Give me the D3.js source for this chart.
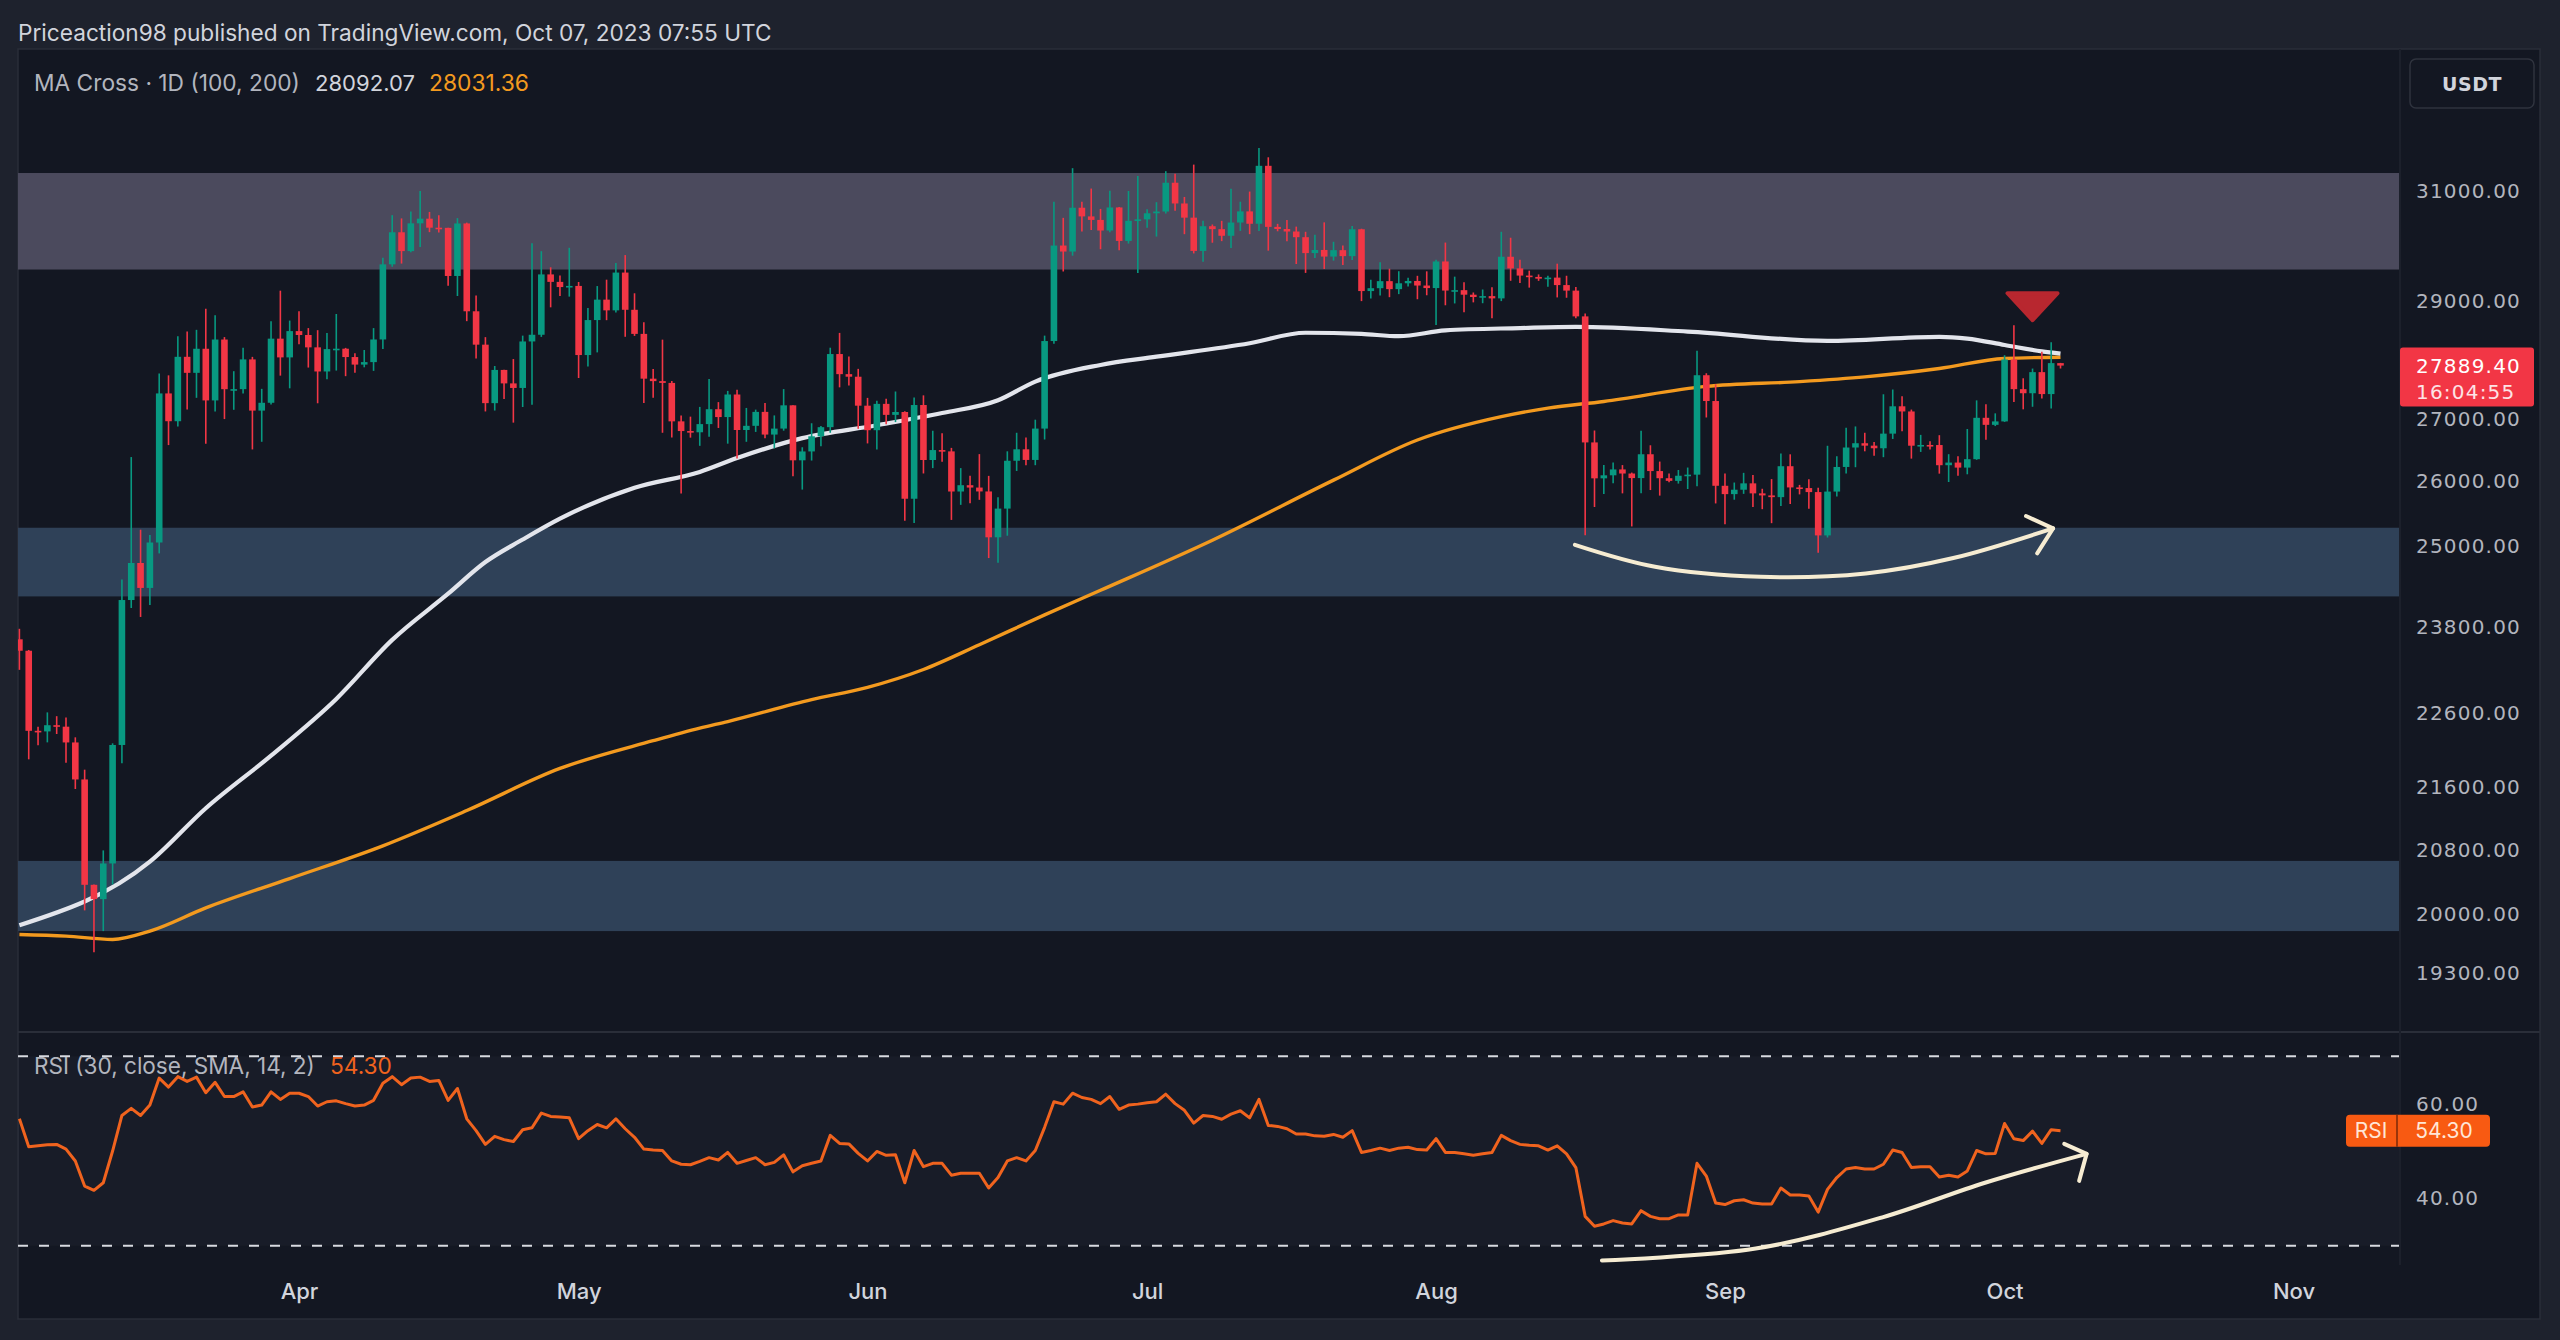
<!DOCTYPE html>
<html><head><meta charset="utf-8">
<script src="https://cdn.jsdelivr.net/npm/d3@7"></script>
<style>
html,body{margin:0;padding:0;background:#1e222d;}
svg{display:block;}
</style></head><body>
<svg id="c" width="2560" height="1340"></svg>
<script>
// ---------------- DATA ----------------
const startDay = "2023-03-02"; // first candle (BTC/USDT daily)
const opens = [23628,23465,22354,22346,22430,22410,22197,21705,20363,20187,
20628,22163,24197,24746,24375,25055,27423,26965,28038,27767,
28175,27307,28333,27493,27494,27994,27139,27268,28348,28028,
28478,28411,28199,27790,28169,28176,28034,27906,27948,28334,
29653,30235,29892,30399,30485,30319,30316,29445,30397,28822,
28245,27262,27816,27590,27514,28300,28415,29473,29340,29248,
29268,28068,28669,29026,28838,29506,28848,28430,27669,27628,
27598,26963,26805,26785,26918,27162,27033,27405,26822,26890,
27118,26748,26845,27226,26334,26476,26720,26868,28085,27745,
27702,27220,26819,27250,27069,27116,25728,27231,26339,26498,
26477,25841,25940,25903,25842,25134,25575,26327,26510,26340,
26845,28307,29993,29884,30688,30527,30462,30267,30693,30077,
30446,30472,30585,30617,31156,30767,30504,29895,30346,30292,
30171,30414,30620,30391,31477,30334,30295,30249,30145,29856,
29913,29793,29909,29801,30290,29177,29228,29353,29211,29315,
29356,29275,29230,29705,29186,29193,29113,29072,29088,29048,
29790,29581,29452,29428,29397,29416,29283,29185,28733,26621,
26048,26096,26189,26124,26052,26431,26163,26050,26008,26089,
26106,27727,27297,25931,25800,25869,25969,25812,25780,25753,
26240,25905,25895,25832,25163,25840,26228,26539,26608,26569,
26527,26763,27210,27125,26568,26580,26579,26256,26298,26218,
26352,27021,26906,26962,27992,27494,27426,27779,27412,27931];
const highs = [23779,23476,22410,22605,22553,22534,22266,21834,20367,20792,
22185,24500,26386,25250,25169,27756,27725,28390,28473,28500,
28868,28752,28375,27795,28194,28037,27499,28650,29184,28660,
28822,28530,28494,28444,28775,28190,28100,28154,28530,29770,
30550,30490,30620,31000,30610,30550,30320,30495,30412,29100,
28374,27882,27820,28000,28400,30036,29890,29600,29455,29952,
29338,28879,29266,29379,29677,29820,29138,28631,27830,28331,
27630,27060,27040,27200,27663,27279,27465,27485,27183,27155,
27265,27060,27495,27228,26543,26932,26886,28193,28447,28045,
27834,27349,27300,27336,27455,27130,27355,27391,26810,26770,
26533,26210,26087,26433,26087,25750,26478,26777,26700,26990,
28400,30800,30500,31432,30800,31046,30666,31006,30703,31000,
31282,30660,30791,31375,31325,30889,31500,30449,30378,30445,
31045,30800,30990,31818,31640,30390,30460,30339,30244,30188,
30417,30061,29994,30350,30300,29376,29690,29575,29530,29413,
29448,29528,29737,30047,29433,29333,29152,29205,29244,30244,
30135,29738,29540,29473,29450,29665,29449,29250,28785,26814,
26261,26299,26258,26139,26810,26575,26314,26125,26180,26219,
28142,27760,27575,26125,25982,26135,26100,25884,26036,26444,
26430,25945,26033,25900,26567,26400,26860,26880,26777,26626,
27409,27488,27378,27156,26743,26640,26738,26432,26397,26838,
27308,27244,27094,28065,28580,27676,27839,28123,28285,27935];
const lows = [23195,21971,22160,22198,22311,21927,21580,20050,19549,19800,
20367,21918,24080,23950,24124,24890,26578,26880,27157,27350,
26601,27126,27000,27152,27420,26508,26631,27240,27720,27508,
28250,27856,27260,27660,27805,27711,27767,27860,27800,28170,
29610,29667,29871,29966,30237,30230,29270,29090,28650,28010,
27125,27140,27331,26942,27198,27235,28378,28891,29088,29079,
27680,27872,28113,28667,28800,28380,28395,27263,27353,26777,
26702,25811,26698,26566,26711,26855,26601,26361,26631,26791,
26687,26524,26811,26080,25871,26330,26560,26777,27524,27554,
26841,26605,26508,26916,26951,25388,25351,26125,26210,26312,
25400,25633,25657,25711,24820,24750,25158,26165,26255,26256,
26668,28260,29525,29809,30250,30277,29926,30236,29907,30028,
29500,30320,30156,30580,30634,30200,29850,29701,30044,30073,
29950,30260,30200,30260,29900,30253,30073,29659,29500,29767,
29570,29720,29641,29730,29000,29047,29097,29069,29123,29257,
29033,29103,28585,28927,28959,28806,28978,28963,28701,29000,
29359,29320,29238,29358,29253,29065,29059,28701,25166,25600,
25801,25971,25812,25300,25812,25864,25777,25985,25965,25880,
25922,27026,25655,25333,25713,25804,25600,25566,25350,25615,
25646,25796,25574,24901,25131,25764,26126,26224,26478,26405,
26384,26677,26800,26361,26468,26509,26122,25990,26088,26112,
26342,26665,26886,26954,27281,27160,27202,27340,27175,27840];
const closes = [23465,22354,22346,22430,22410,22197,21705,20363,20187,20628,
22163,24197,24746,24375,25055,27423,26965,28038,27767,28175,
27307,28333,27493,27494,27994,27139,27268,28348,28028,28478,
28411,28199,27790,28169,28176,28034,27906,27948,28334,29653,
30235,29892,30399,30485,30319,30316,29445,30397,28822,28245,
27262,27816,27590,27514,28300,28415,29473,29340,29248,29268,
28068,28669,29026,28838,29506,28848,28430,27669,27628,27598,
26963,26805,26785,26918,27162,27033,27405,26822,26890,27118,
26748,26845,27226,26334,26476,26720,26868,28085,27745,27702,
27220,26819,27250,27069,27116,25728,27231,26339,26498,26477,
25841,25940,25903,25842,25134,25575,26327,26510,26340,26845,
28307,29993,29884,30688,30527,30462,30267,30693,30077,30446,
30472,30585,30617,31156,30767,30504,29895,30346,30292,30171,
30414,30620,30391,31477,30334,30295,30249,30145,29856,29913,
29793,29909,29801,30290,29177,29228,29353,29211,29315,29356,
29275,29230,29705,29186,29193,29113,29072,29088,29048,29790,
29581,29452,29428,29397,29416,29283,29185,28733,26621,26048,
26096,26189,26124,26052,26431,26163,26050,26008,26089,26106,
27727,27297,25931,25800,25869,25969,25812,25780,25753,26240,
25905,25895,25832,25163,25840,26228,26539,26608,26569,26527,
26763,27210,27125,26568,26580,26579,26256,26298,26218,26352,
27021,26906,26962,27992,27494,27426,27779,27412,27931,27889.4];

// moving averages: [day index from startDay, value]
const ma100Days = [0,14,20,27,34,40,46,50,54,58,66,73,77,84,92,99,105,109,116,122,132,138,144,148,153,161,167,179,194,206,209,213,217,219];
const ma100Vals = [19870,20650,21330,22020,22790,23620,24290,24760,25100,25420,25900,26150,26370,26690,26900,27100,27310,27620,27900,28040,28270,28450,28430,28390,28490,28530,28550,28470,28310,28380,28350,28240,28130,28092];
const ma200Days = [0,5,10,14,20,29,39,48,58,68,73,76,85,91,97,103,110,116,128,141,150,159,164,170,181,191,198,206,213,219];
const ma200Vals = [19760,19740,19700,19800,20080,20440,20850,21300,21850,22220,22390,22480,22780,22950,23200,23550,23980,24340,25090,26020,26660,27040,27180,27290,27540,27620,27700,27840,28010,28031];

// RSI (30, close, SMA, 14, 2), one value per candle
const rsiVals = [56.8,50.9,51.1,51.3,51.4,50.4,47.9,42.6,41.7,43.3,
50.0,57.5,59.0,57.5,59.7,65.4,63.5,65.7,64.7,65.6,
62.3,64.5,61.5,61.5,62.5,59.3,59.7,62.5,60.9,62.2,
62.2,61.5,59.5,60.4,60.6,60.0,59.5,59.7,60.7,64.3,
65.7,64.0,65.4,65.6,64.7,64.9,60.7,63.2,56.8,54.3,
51.4,53.1,52.4,52.0,54.5,54.9,58.0,57.3,57.2,57.0,
52.6,54.3,55.6,54.9,56.8,54.7,52.9,50.4,50.2,50.1,
47.9,47.2,47.1,47.8,48.6,48.1,49.7,47.4,48.0,48.6,
47.1,47.6,49.2,45.6,46.9,47.4,47.9,53.3,51.6,51.5,
49.5,47.9,49.9,49.1,49.2,43.3,50.1,46.7,47.4,47.4,
44.9,45.3,45.3,45.3,42.2,44.4,47.9,48.6,47.9,50.1,
55.0,60.4,59.9,62.2,61.3,60.9,60.0,61.5,58.8,59.7,
59.9,60.2,60.4,62.0,60.0,58.6,55.9,57.5,57.3,56.7,
57.8,58.5,57.0,60.9,55.4,55.2,54.7,53.6,53.6,53.2,
53.1,53.5,52.9,54.3,49.7,50.1,50.6,50.1,50.6,50.8,
50.3,50.2,52.6,49.7,49.7,49.4,49.1,49.4,49.7,53.3,
52.2,51.4,51.2,51.1,50.2,51.1,49.4,46.5,36.2,34.1,
34.6,35.3,34.8,34.6,37.4,36.2,35.7,35.7,36.5,36.5,
47.4,44.7,39.0,38.7,39.5,39.7,39.0,38.8,38.8,42.2,
40.7,40.7,40.5,37.1,41.9,44.4,46.2,46.5,46.2,46.2,
47.2,50.2,49.7,46.5,46.7,46.7,44.5,44.9,44.5,45.8,
50.1,49.4,49.5,55.8,52.6,52.2,54.2,51.6,54.5,54.3];

const priceTicks = [31000,29000,27000,26000,25000,23800,22600,21600,20800,20000,19300];
const rsiTicks = [60,40];
const rsiBands = [70,30];
// zones: [low, high]
const zoneGrey = [29560,31340];
const zoneBlue = [[24250,25280],[19800,20660]];
// annotations: [day index, value]
const curvePts = [[166.9,25020],[175.5,24690],[186.8,24540],[198.1,24590],[207.5,24820],[218.2,25270]];
const curveHead = [[215.3,25460],[218.2,25270],[216.5,24890]];
const rsiArrowPts = [[169.8,26.9],[186.3,29.4],[199.9,36.0],[210.9,43.3],[221.8,49.4]];
const rsiArrowHead = [[219.4,51.5],[221.8,49.4],[221.0,43.7]];
const triangleAt = [216,28910];
const headerText = "Priceaction98 published on TradingView.com, Oct 07, 2023 07:55 UTC";
const legendName = "MA Cross · 1D (100, 200)";
const legendMa100 = "28092.07", legendMa200 = "28031.36";
const rsiName = "RSI (30, close, SMA, 14, 2)", rsiLast = "54.30";
const lastPrice = 27889.40, countdown = "16:04:55";

// ---------------- LAYOUT ----------------
const P = {x:18, y:49, r:2540, b:1319, plotR:2400, mainB:1032, rsiB:1265};
const C = {bg:"#1e222d", panel:"#131722", line:"#2a2e39", text:"#d1d4dc", axis:"#b2b5be",
  up:"#089981", down:"#f23645", ma100:"#e3e5ec", ma200:"#f39a1f", rsi:"#f0631e",
  grey:"#4b4a5d", blue:"#2f4158", cream:"#f6ecd2", tri:"#b8272f"};

const svg = d3.select("#c");
const t0 = d3.utcParse("%Y-%m-%d")(startDay);
const dayDate = d => new Date(t0.getTime() + d*864e5);
const dates = closes.map((_,i)=>d3.utcDay.offset(t0,i));

const x = d3.scaleUtc().domain([t0, new Date(Date.UTC(2023,10,1))]).range([19.4, 2293.5]);
const y = d3.scaleLog().domain([18626, 33785]).range([P.mainB, P.y]);
const yr = d3.scaleLinear().domain([25.93, 75.13]).range([P.rsiB, P.mainB]);

// background
svg.append("rect").attr("width",2560).attr("height",1340).attr("fill",C.bg);
svg.append("rect").attr("x",P.x).attr("y",P.y).attr("width",P.r-P.x).attr("height",P.b-P.y)
  .attr("fill",C.panel).attr("stroke",C.line).attr("stroke-width",1.5);

const defs = svg.append("defs");
defs.append("clipPath").attr("id","cm").append("rect").attr("x",P.x).attr("y",P.y).attr("width",P.plotR-P.x).attr("height",P.mainB-P.y);
defs.append("clipPath").attr("id","cr").append("rect").attr("x",P.x).attr("y",P.mainB).attr("width",P.plotR-P.x).attr("height",P.rsiB-P.mainB);

// ---------------- MAIN PANE ----------------
const gm = svg.append("g").attr("clip-path","url(#cm)");
gm.append("rect").attr("x",P.x).attr("width",P.plotR-P.x)
  .attr("y",y(zoneGrey[1])).attr("height",y(zoneGrey[0])-y(zoneGrey[1])).attr("fill",C.grey);
gm.selectAll("rect.zb").data(zoneBlue).join("rect").attr("class","zb")
  .attr("x",P.x).attr("width",P.plotR-P.x)
  .attr("y",d=>y(d[1])).attr("height",d=>y(d[0])-y(d[1])).attr("fill",C.blue);

const line = (xs, ys, sc) => d3.line().x((d,i)=>x(dayDate(xs[i]))).y((d,i)=>sc(ys[i])).curve(d3.curveMonotoneX)(xs);
gm.append("path").attr("d",line(ma200Days,ma200Vals,y)).attr("fill","none").attr("stroke",C.ma200).attr("stroke-width",3.4);
gm.append("path").attr("d",line(ma100Days,ma100Vals,y)).attr("fill","none").attr("stroke",C.ma100).attr("stroke-width",4.2);

const cw = 6.6;
const cg = gm.append("g");
const cd = dates.map((d,i)=>({d,o:opens[i],h:highs[i],l:lows[i],c:closes[i]}));
cg.selectAll("line.w").data(cd).join("line").attr("class","w")
  .attr("x1",d=>x(d.d)).attr("x2",d=>x(d.d)).attr("y1",d=>y(d.h)).attr("y2",d=>y(d.l))
  .attr("stroke",d=>d.c>=d.o?C.up:C.down).attr("stroke-width",1.6);
cg.selectAll("rect.b").data(cd).join("rect").attr("class","b")
  .attr("x",d=>x(d.d)-cw/2).attr("width",cw)
  .attr("y",d=>y(Math.max(d.o,d.c))).attr("height",d=>Math.max(1.6,Math.abs(y(d.o)-y(d.c))))
  .attr("fill",d=>d.c>=d.o?C.up:C.down);

// annotations
const annLine = d3.line().x(d=>x(dayDate(d[0]))).y(d=>y(d[1]));
gm.append("path").attr("d",annLine.curve(d3.curveCatmullRom)(curvePts)).attr("fill","none")
  .attr("stroke",C.cream).attr("stroke-width",4).attr("stroke-linecap","round");
gm.append("path").attr("d",d3.line().x(d=>x(dayDate(d[0]))).y(d=>y(d[1]))(curveHead)).attr("fill","none")
  .attr("stroke",C.cream).attr("stroke-width",4).attr("stroke-linecap","round").attr("stroke-linejoin","round");
{
  const tx = x(dayDate(triangleAt[0])), ty = y(triangleAt[1]);
  gm.append("path").attr("d",`M${tx-25},${ty-13} L${tx+25},${ty-13} L${tx},${ty+14} Z`)
    .attr("fill",C.tri).attr("stroke",C.tri).attr("stroke-width",4).attr("stroke-linejoin","round");
}

// ---------------- RSI PANE ----------------
const gr = svg.append("g").attr("clip-path","url(#cr)");
gr.append("rect").attr("x",P.x).attr("width",P.plotR-P.x).attr("y",yr(rsiBands[0])).attr("height",yr(rsiBands[1])-yr(rsiBands[0]))
  .attr("fill","#787b86").attr("opacity",0.06);
gr.selectAll("line.band").data(rsiBands).join("line").attr("class","band")
  .attr("x1",P.x).attr("x2",P.plotR).attr("y1",d=>yr(d)).attr("y2",d=>yr(d))
  .attr("stroke","#d8dae0").attr("stroke-width",2).attr("stroke-dasharray","10,11");
gr.append("path").attr("d",d3.line().x((d,i)=>x(dates[i])).y(d=>yr(d))(rsiVals))
  .attr("fill","none").attr("stroke",C.rsi).attr("stroke-width",3).attr("stroke-linejoin","round");
const rsiLine = d3.line().x(d=>x(dayDate(d[0]))).y(d=>yr(d[1]));
gr.append("path").attr("d",rsiLine.curve(d3.curveCatmullRom)(rsiArrowPts)).attr("fill","none")
  .attr("stroke",C.cream).attr("stroke-width",4).attr("stroke-linecap","round");
gr.append("path").attr("d",d3.line().x(d=>x(dayDate(d[0]))).y(d=>yr(d[1]))(rsiArrowHead)).attr("fill","none")
  .attr("stroke",C.cream).attr("stroke-width",4).attr("stroke-linecap","round").attr("stroke-linejoin","round");

// separators
svg.append("line").attr("x1",P.x).attr("x2",P.r).attr("y1",P.mainB).attr("y2",P.mainB).attr("stroke",C.line).attr("stroke-width",2);
svg.append("line").attr("x1",P.plotR).attr("x2",P.plotR).attr("y1",P.y).attr("y2",P.rsiB).attr("stroke","#1c202b").attr("stroke-width",2);

// ---------------- AXES ----------------
const axFont = "DejaVu Sans, Verdana, sans-serif";
const ay = svg.append("g").attr("transform",`translate(${P.plotR},0)`)
  .call(d3.axisRight(y).tickValues(priceTicks).tickFormat(d3.format(".2f")).tickSize(0).tickPadding(16));
ay.select(".domain").remove();
ay.selectAll("text").attr("fill",C.axis).attr("font-family",axFont).attr("font-size",20).attr("letter-spacing","1.2px");

const ar = svg.append("g").attr("transform",`translate(${P.plotR},0)`)
  .call(d3.axisRight(yr).tickValues(rsiTicks).tickFormat(d3.format(".2f")).tickSize(0).tickPadding(16));
ar.select(".domain").remove();
ar.selectAll("text").attr("fill",C.axis).attr("font-family",axFont).attr("font-size",20).attr("letter-spacing","1.2px");

const ax = svg.append("g").attr("transform",`translate(0,${P.rsiB})`)
  .call(d3.axisBottom(x).ticks(d3.utcMonth.every(1)).tickFormat(d3.utcFormat("%b")).tickSize(0).tickPadding(18));
ax.select(".domain").remove();
ax.selectAll(".tick").filter(d=>d<new Date(Date.UTC(2023,3,1))).remove();
ax.selectAll("text").attr("fill",C.text).attr("font-family","Inter, Roboto, sans-serif").attr("font-size",22).attr("font-weight",500);

// last price label
{
  const ly = y(lastPrice);
  svg.append("rect").attr("x",P.plotR).attr("y",ly-18).attr("width",134).attr("height",59).attr("rx",3).attr("fill",C.down);
  svg.append("text").attr("x",P.plotR+16).attr("y",ly).attr("dy","0.35em").text(d3.format(".2f")(lastPrice))
    .attr("fill","#fff").attr("font-family",axFont).attr("font-size",20).attr("letter-spacing","1.2px");
  svg.append("text").attr("x",P.plotR+16).attr("y",ly+26).attr("dy","0.35em").text(countdown)
    .attr("fill","#fde3e5").attr("font-family",axFont).attr("font-size",20).attr("letter-spacing","1.2px");
}
// RSI label
{
  const ry = yr(rsiVals[rsiVals.length-1]);
  svg.append("rect").attr("x",2346).attr("y",ry-16).attr("width",144).attr("height",32).attr("rx",4).attr("fill","#f85a12");
  svg.append("line").attr("x1",2397).attr("x2",2397).attr("y1",ry-16).attr("y2",ry+16).attr("stroke","#7a2a08").attr("stroke-width",1.5);
  svg.append("text").attr("x",2371).attr("y",ry).attr("dy","0.36em").attr("text-anchor","middle").text("RSI")
    .attr("fill","#ffe6d6").attr("font-family","Inter, Roboto, sans-serif").attr("font-size",21);
  svg.append("text").attr("x",2444).attr("y",ry).attr("dy","0.36em").attr("text-anchor","middle").text(rsiLast)
    .attr("fill","#ffe6d6").attr("font-family","Inter, Roboto, sans-serif").attr("font-size",21);
}
// USDT button
svg.append("rect").attr("x",2410).attr("y",59).attr("width",124).attr("height",49).attr("rx",6)
  .attr("fill",C.panel).attr("stroke","#2f333e").attr("stroke-width",1.5);
svg.append("text").attr("x",2472).attr("y",84).attr("dy","0.36em").attr("text-anchor","middle").text("USDT")
  .attr("fill",C.text).attr("font-family",axFont).attr("font-size",19).attr("font-weight",600).attr("letter-spacing","0.5px");

// ---------------- TEXTS ----------------
function fit(sel, w){ const cur = sel.node().getComputedTextLength(); const fs = +sel.attr("font-size"); sel.attr("font-size", fs*w/cur); return sel; }
const tf = "Inter, Roboto, sans-serif";
fit(svg.append("text").attr("x",18).attr("y",33).attr("dy","0.36em").text(headerText)
  .attr("fill",C.text).attr("font-family",tf).attr("font-size",22), 754);
fit(svg.append("text").attr("x",34).attr("y",83).attr("dy","0.36em").text(legendName)
  .attr("fill",C.axis).attr("font-family",tf).attr("font-size",21), 266);
fit(svg.append("text").attr("x",315).attr("y",83).attr("dy","0.36em").text(legendMa100)
  .attr("fill",C.text).attr("font-family",tf).attr("font-size",21), 100);
fit(svg.append("text").attr("x",429).attr("y",83).attr("dy","0.36em").text(legendMa200)
  .attr("fill",C.ma200).attr("font-family",tf).attr("font-size",21), 100);
fit(svg.append("text").attr("x",34).attr("y",1066).attr("dy","0.36em").text(rsiName)
  .attr("fill",C.axis).attr("font-family",tf).attr("font-size",21), 281);
fit(svg.append("text").attr("x",330).attr("y",1066).attr("dy","0.36em").text(rsiLast)
  .attr("fill",C.rsi).attr("font-family",tf).attr("font-size",21), 62);
</script>
</body></html>
